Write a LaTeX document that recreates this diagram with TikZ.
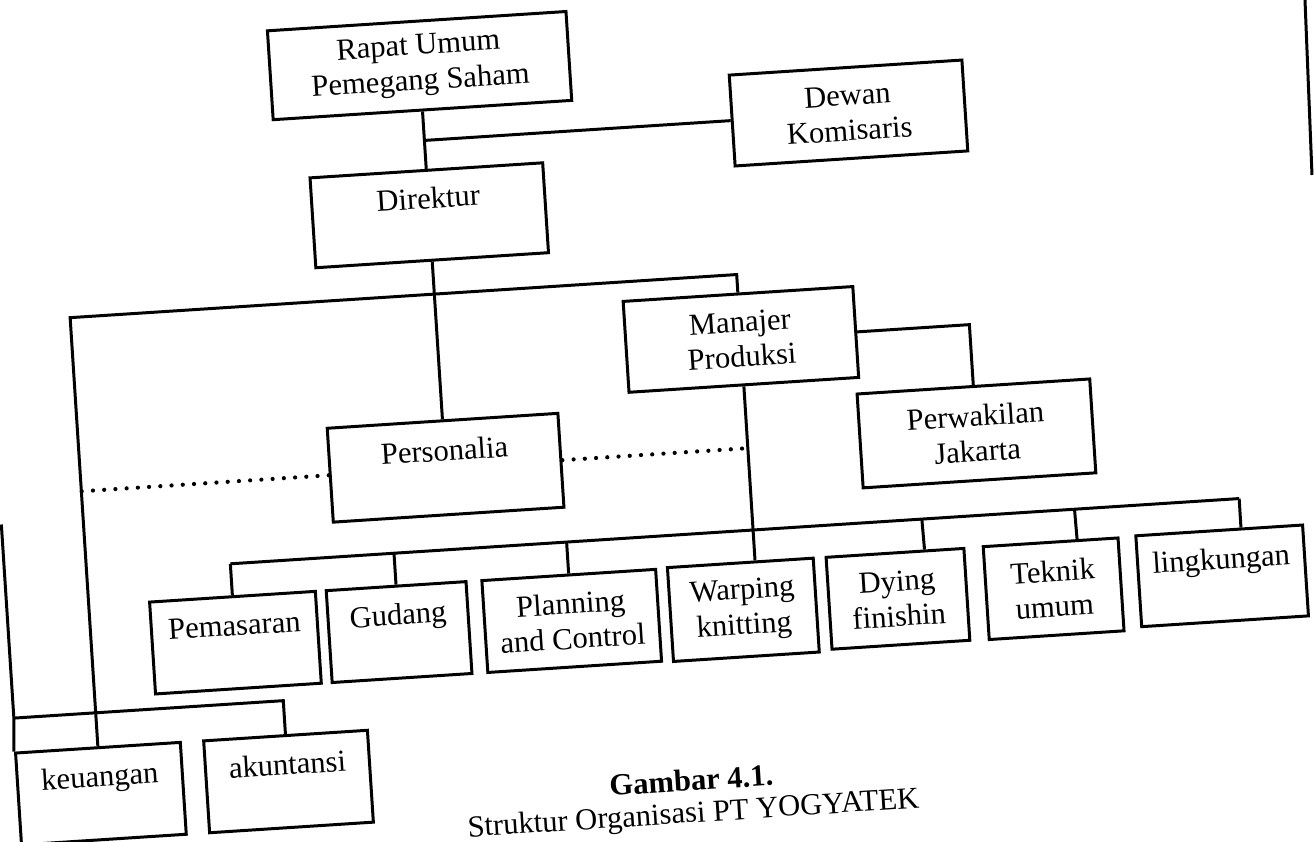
\documentclass[tikz,border=0pt]{standalone}
\usepackage{fontspec}
\setmainfont{Liberation Serif}
\tikzset{>=stealth}
\tikzset{orgbox/.style={draw, align=center, minimum height=0.92cm},
  oneline/.style={text height=2.1mm, text depth=3.5mm},
  dotline/.style={line width=1.2pt, line cap=round, dash pattern=on 0pt off 3.2pt}}

\begin{document}
\begin{tikzpicture}[x=0.01cm, y=-0.01cm, line width=0.85pt,
    font=\fontsize{8.7}{10}\selectfont]
  \useasboundingbox (0,0) rectangle (1314,842);
  % the scanned page is a little tilted
  \begin{scope}[rotate around={3.7:(657,421)}, transform shape]
    \node[orgbox, minimum width=2.99cm, minimum height=0.89cm] (rups) at (443,51) {Rapat Umum\\Pemegang Saham};
    \node[orgbox, minimum width=2.33cm, minimum height=0.91cm] (dewan) at (868,126) {Dewan\\Komisaris};
    \node[orgbox, oneline, minimum width=2.33cm, minimum height=0.90cm] (dir) at (443,201) {Direktur};
    \node[orgbox, minimum width=2.30cm, minimum height=0.91cm] (mgr) at (746,345) {Manajer\\Produksi};
    \node[orgbox, minimum width=2.33cm, minimum height=0.94cm] (perw) at (975,454) {Perwakilan\\Jakarta};
    \node[orgbox, oneline, minimum width=2.31cm, minimum height=0.94cm] (pers) at (443,454) {Personalia};

    \node[orgbox, oneline, minimum width=1.66cm] (pem) at (222,615) {Pemasaran};
    \node[orgbox, oneline, minimum width=1.40cm] (gud) at (386,615) {Gudang};
    \node[orgbox, minimum width=1.74cm] (plan) at (559,615) {Planning\\and Control};
    \node[orgbox, minimum width=1.46cm, minimum height=0.94cm] (warp) at (731,615) {Warping\\knitting};
    \node[orgbox, minimum width=1.38cm] (dye) at (886,614) {Dying\\finishin};
    \node[orgbox, minimum width=1.35cm, minimum height=0.93cm] (tek) at (1042,614) {Teknik\\umum};
    \node[orgbox, oneline, minimum width=1.67cm, minimum height=0.91cm] (ling) at (1211,612) {lingkungan};

    \node[orgbox, oneline, minimum width=1.65cm] (keu) at (78,757) {keuangan};
    \node[orgbox, oneline, minimum width=1.64cm] (akt) at (266,757) {akuntansi};

    \node[anchor=base, font=\fontsize{8.7}{10}\selectfont\bfseries] (cap1) at (668,792) {Gambar 4.1.};
    \node[anchor=base] (cap2) at (668,824) {Struktur Organisasi PT YOGYATEK};

    % junctions
    \coordinate (jdk) at (443,126);
    \coordinate (tl) at (78,280);
    \coordinate (tr) at (746,280);
    \coordinate (jpw) at (975,345);
    \coordinate (dl) at (78,454);
    \coordinate (dr) at (746,454);
    \coordinate (b1) at (222,536);
    \coordinate (b2) at (386,536);
    \coordinate (b3) at (559,536);
    \coordinate (b5) at (915,536);
    \coordinate (b6) at (1068,536);
    \coordinate (b7) at (1233,536);
    \coordinate (el) at (-4,482);
    \coordinate (ej) at (-4,676);
    \coordinate (ea) at (266,676);

    \draw (rups) -- (dir);
    \draw (dewan) -- (jdk);
    \draw (dir) -- (pers);
    \draw (keu) -- (tl) -- (tr) -- (mgr);
    \draw (mgr) -- (jpw) -- (perw);
    \draw (mgr) -- (warp.73);
    \draw[dotline] (pers) -- (dl);
    \draw[dotline] (pers) -- (dr);

    \draw (b1) -- (b7);
    \draw (b1) -- (pem);
    \draw (b2) -- (gud);
    \draw (b3) -- (plan);
    \draw (b5) -- (dye.58);
    \draw (b6) -- (tek.61);
    \draw (b7) -- (ling.65);

    \draw (el) -- (ej) -- (keu.north west);
    \draw (ej) -- (ea) -- (akt);
  \end{scope}
  % edge of the scanned sheet
  \draw (1305,0) -- (1312,175);
\end{tikzpicture}
\end{document}
